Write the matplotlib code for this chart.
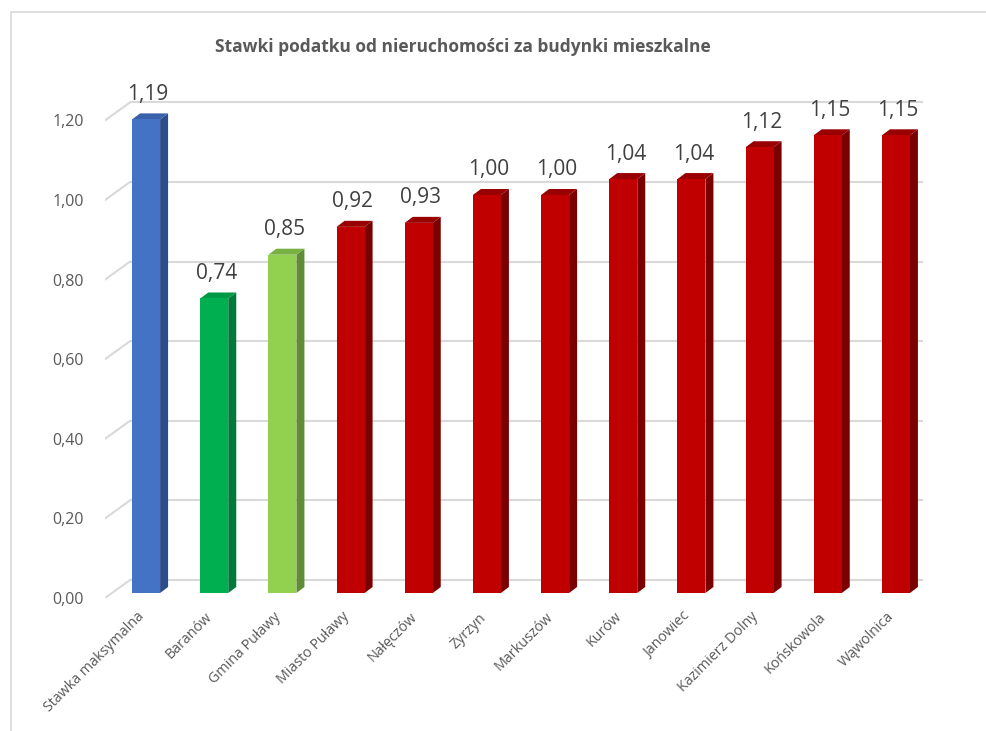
import numpy as np
import matplotlib
matplotlib.use("Agg")
import matplotlib.pyplot as plt
from matplotlib.patches import Polygon, Rectangle

plt.rcParams['font.family'] = ['Open Sans', 'DejaVu Sans']

# dane
categories = ['Stawka maksymalna', 'Baranów', 'Gmina Puławy', 'Miasto Puławy', 'Nałęczów',
              'Żyrzyn', 'Markuszów', 'Kurów', 'Janowiec', 'Kazimierz Dolny',
              'Końskowola', 'Wąwolnica']
values = [1.19, 0.74, 0.85, 0.92, 0.93, 1.00, 1.00, 1.04, 1.04, 1.12, 1.15, 1.15]
value_labels = ['1,19', '0,74', '0,85', '0,92', '0,93', '1,00', '1,00', '1,04', '1,04', '1,12', '1,15', '1,15']
yticks = [0.0, 0.2, 0.4, 0.6, 0.8, 1.0, 1.2]
ytick_labels = ['0,00', '0,20', '0,40', '0,60', '0,80', '1,00', '1,20']

# kolory: przód, bok, góra
palette = {
    'blue': ('#4472C4', '#2C4C8A', '#3A62AC'),
    'green': ('#00B050', '#00793A', '#009A46'),
    'lightgreen': ('#92D050', '#5F8C35', '#78B042'),
    'red': ('#C00000', '#7A0000', '#990000'),
}
bar_colors = ['blue', 'green', 'lightgreen'] + ['red'] * 9

W, H = 986, 731
fig = plt.figure(figsize=(W / 100, H / 100), dpi=100)

# ramka wykresu
fig.patches.append(Rectangle((11 / W, -0.5), 2, 1.5 - 12 / H, transform=fig.transFigure,
                             fill=False, edgecolor='#d9d9d9', lw=1.2))

ymax = 1.3
ax = fig.add_axes([105 / W, 133 / H, 818 / W, (ymax * 398) / H])
ax.set_xlim(-0.5, len(categories) - 0.5)
ax.set_ylim(0, ymax)
for s in ax.spines.values():
    s.set_visible(False)
ax.patch.set_visible(False)

px_x = 818 / len(categories)   # pikseli na jednostkę x
px_y = 398                     # pikseli na jednostkę y

def ux(p):
    return p / px_x

def uy(p):
    return p / px_y

# tylna ściana - linie siatki
bx, by = ux(25), uy(18)
for t in yticks:
    ax.plot([-0.5 + bx, len(categories) - 0.5 + bx], [t + by, t + by], color='#d9d9d9', lw=1.5,
            solid_capstyle='butt', zorder=1)
    ax.plot([-0.5, -0.5 + bx], [t, t + by], color='#d9d9d9', lw=1.5, zorder=1)

# słupki 3D
fx, fy = ux(7), uy(5)
w = ux(28)
dx, dy = ux(8), uy(6)
x = np.arange(len(categories))
for i, v in enumerate(values):
    front, side, top = palette[bar_colors[i]]
    x0 = x[i] + fx - w / 2
    x1 = x[i] + fx + w / 2
    y0 = fy
    y1 = fy + v
    ax.add_patch(Polygon([(x1, y0), (x1 + dx, y0 + dy), (x1 + dx, y1 + dy), (x1, y1)],
                         closed=True, facecolor=side, edgecolor='none', zorder=3))
    ax.add_patch(Polygon([(x0, y1), (x1, y1), (x1 + dx, y1 + dy), (x0 + dx, y1 + dy)],
                         closed=True, facecolor=top, edgecolor='none', zorder=3))
    ax.add_patch(Rectangle((x0, y0), w, v, facecolor=front, edgecolor='none', zorder=4))
    ax.text(x[i] + fx + dx / 2 - ux(2), y1 + dy + uy(19), value_labels[i], ha='center', va='center',
            fontsize=15, color='#404040', zorder=5)

ax.set_yticks(yticks)
ax.set_yticklabels(ytick_labels, fontsize=11.5, color='#595959')
ax.set_xticks(x + fx - ux(4))
ax.set_xticklabels(categories, rotation=45, ha='right', va='center', rotation_mode='anchor',
                   fontsize=10.3, color='#595959')
ax.tick_params(axis='y', length=0, pad=15)
ax.tick_params(axis='x', length=0, pad=12)

fig.text(463 / W, 1 - 47 / H, 'Stawki podatku od nieruchomości za budynki mieszkalne',
         ha='center', va='center', fontsize=12.5, fontweight='bold', color='#595959')

fig.savefig('out.png', dpi=100)
